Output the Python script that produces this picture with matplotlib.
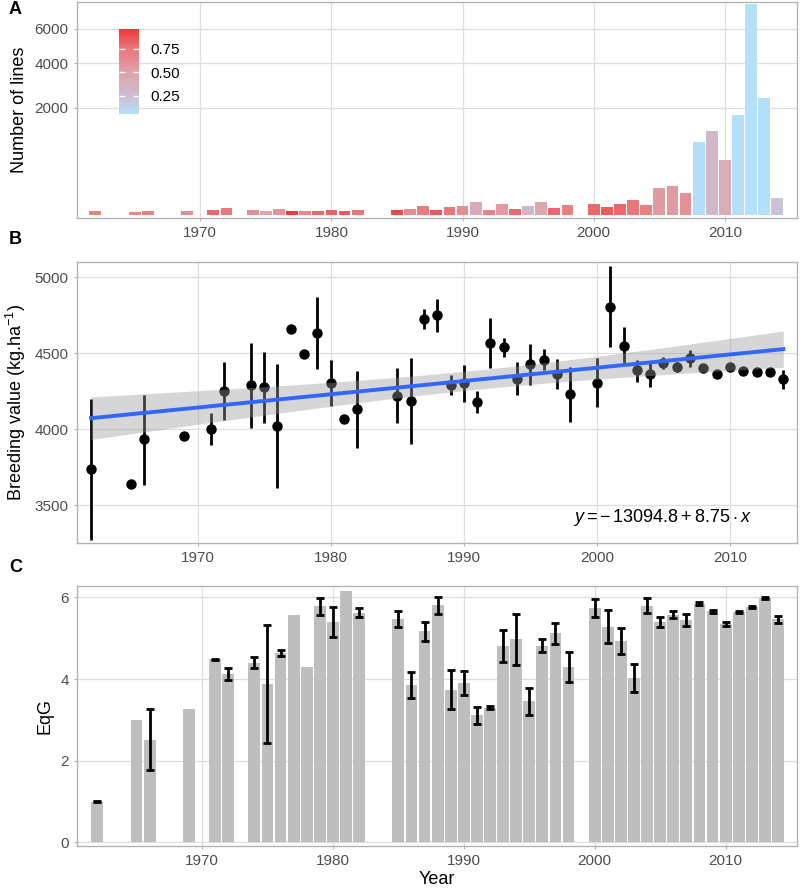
import numpy as np
import matplotlib
matplotlib.use("Agg")
import matplotlib.pyplot as plt
from matplotlib.colors import LinearSegmentedColormap, Normalize
from matplotlib.cm import ScalarMappable

plt.rcParams['font.family'] = ['Liberation Sans', 'DejaVu Sans']
plt.rcParams['mathtext.fontset'] = 'custom'
plt.rcParams['mathtext.rm'] = 'Liberation Sans'
plt.rcParams['mathtext.it'] = 'Liberation Sans:italic'
plt.rcParams['mathtext.bf'] = 'Liberation Sans:bold'

# annees presentes dans les trois panneaux
years = [1962, 1965, 1966, 1969, 1971, 1972,
         1974, 1975, 1976, 1977, 1978, 1979, 1980, 1981, 1982,
         1985, 1986, 1987, 1988, 1989, 1990, 1991, 1992, 1993, 1994, 1995, 1996, 1997, 1998,
         2000, 2001, 2002, 2003, 2004, 2005, 2006, 2007, 2008, 2009, 2010, 2011, 2012, 2013, 2014]

# A : nombre de lignes et proportion (couleur)
n_lines = [4, 2, 4, 3, 6, 9,
           6, 4, 8, 3, 3, 4, 5, 3, 5,
           6, 8, 15, 6, 12, 17, 32, 6, 22, 8, 16, 30, 9, 20,
           24, 13, 24, 42, 19, 133, 153, 85, 920, 1240, 540, 1730, 7700, 2370, 55]
frac = [0.70, 0.65, 0.70, 0.62, 0.80, 0.75,
        0.62, 0.45, 0.58, 0.96, 0.65, 0.80, 0.82, 0.85, 0.75,
        0.90, 0.62, 0.72, 0.85, 0.75, 0.62, 0.42, 0.68, 0.55, 0.80, 0.30, 0.45, 0.80, 0.70,
        0.80, 0.85, 0.80, 0.75, 0.70, 0.55, 0.55, 0.60, 0.07, 0.30, 0.40, 0.06, 0.056, 0.06, 0.22]

# B : valeur genetique moyenne et intervalle (None = pas de barre)
bv = [3737, 3636, 3934, 3952, 4002, 4252,
      4289, 4276, 4018, 4660, 4493, 4636, 4305, 4070, 4132,
      4221, 4186, 4728, 4750, 4294, 4303, 4182, 4570, 4539, 4331, 4430, 4458, 4364, 4230,
      4307, 4807, 4548, 4388, 4364, 4439, 4410, 4469, 4406, 4366, 4412, 4384, 4379, 4379, 4329]
bv_lo = [3272, None, 3634, None, 3897, 4061,
         4007, 4044, 3610, None, None, 4399, 4153, None, 3875,
         4039, 3901, 4660, 4638, 4228, 4180, 4110, 4401, 4476, 4224, 4294, 4388, 4263, 4046,
         4147, 4539, 4421, 4314, 4281, 4399, 4375, 4412, None, None, None, None, None, None, 4263]
bv_hi = [4200, None, 4228, None, 4110, 4441,
         4568, 4509, 4428, None, None, 4873, 4454, None, 4386,
         4406, 4471, 4789, 4860, 4360, 4425, 4250, 4735, 4599, 4445, 4564, 4526, 4465, 4412,
         4469, 5075, 4675, 4456, 4441, 4478, 4441, 4522, None, None, None, None, None, None, 4390]
intercept, slope = -13094.8, 8.75

# C : EqG et erreur
eqg = [1.00, 3.00, 2.51, 3.26, 4.48, 4.12,
       4.40, 3.88, 4.64, 5.56, 4.30, 5.78, 5.40, 6.15, 5.63,
       5.47, 3.86, 5.17, 5.81, 3.74, 3.90, 3.11, 3.30, 4.81, 4.97, 3.46, 4.82, 5.12, 4.29,
       5.74, 5.28, 4.93, 4.03, 5.80, 5.39, 5.58, 5.45, 5.85, 5.66, 5.35, 5.64, 5.77, 5.98, 5.46]
eqg_err = [0.01, 0, 0.75, 0, 0.02, 0.15,
           0.13, 1.44, 0.07, 0, 0, 0.20, 0.375, 0, 0.11,
           0.19, 0.32, 0.24, 0.21, 0.48, 0.29, 0.20, 0.03, 0.39, 0.63, 0.33, 0.155, 0.25, 0.37,
           0.21, 0.40, 0.32, 0.35, 0.18, 0.12, 0.085, 0.14, 0.03, 0.03, 0.04, 0.03, 0.02, 0.03, 0.09]

yrs = np.array(years, dtype=float)
grid_c = '#dedede'
border_c = '#b3b3b3'
tick_c = '#4d4d4d'

def style(ax):
    ax.set_facecolor('white')
    ax.grid(True, color=grid_c, lw=0.9)
    ax.set_axisbelow(True)
    for s in ax.spines.values():
        s.set_color(border_c)
        s.set_linewidth(1.0)
    ax.tick_params(colors=border_c, labelcolor=tick_c, labelsize=11, length=2.5, width=0.8)
    ax.set_xticks([1970, 1980, 1990, 2000, 2010])

fig = plt.figure(figsize=(8, 8.92), dpi=100)
W, H = 800, 892
def box(l, t, r, b):
    return [l / W, 1 - b / H, (r - l) / W, (b - t) / H]

# ---- A
axA = fig.add_axes(box(77, 2, 797, 218))
style(axA)
cmap = LinearSegmentedColormap.from_list('fr', [(0, '#b3e0fa'), (0.215, '#cdbdd0'), (0.49, '#dfa3a9'),
                                                (0.768, '#e9777a'), (1, '#ef3a3a')])
norm = Normalize(vmin=min(frac), vmax=max(frac))
fwd = lambda y: np.sign(y) * np.sqrt(np.abs(y))
inv = lambda y: np.sign(y) * y ** 2
axA.set_yscale('function', functions=(fwd, inv))
axA.bar(yrs, n_lines, width=0.9, color=cmap(norm(np.array(frac))), zorder=2)
axA.set_xlim(1960.6, 2015.5)
axA.set_ylim(-1.08, 7850)
axA.set_yticks([2000, 4000, 6000])
axA.set_ylabel('Number of lines', fontsize=13, labelpad=5)

cax = fig.add_axes(box(119, 29, 139, 114))
cb = fig.colorbar(ScalarMappable(norm=norm, cmap=cmap), cax=cax)
cb.outline.set_visible(False)
cb.set_ticks([0.25, 0.5, 0.75])
cb.set_ticklabels(['0.25', '0.50', '0.75'])
cax.tick_params(axis='y', direction='in', color='white', width=1, length=4,
                left=True, right=True, labelsize=11, labelcolor='black', pad=8)

# ---- B
axB = fig.add_axes(box(77, 262, 797, 543))
style(axB)
for x, y, lo, hi in zip(yrs, bv, bv_lo, bv_hi):
    if lo is not None:
        axB.plot([x, x], [lo, hi], color='black', lw=2, zorder=3, solid_capstyle='butt')
axB.plot(yrs, bv, 'o', color='black', ms=6.5, zorder=3)

xs = np.linspace(yrs.min(), yrs.max(), 200)
fit = intercept + slope * xs
resid = np.array(bv) - (intercept + slope * yrs)
n = len(yrs)
s = np.sqrt(np.sum(resid ** 2) / (n - 2))
se = s * np.sqrt(1 / n + (xs - yrs.mean()) ** 2 / np.sum((yrs - yrs.mean()) ** 2))
axB.fill_between(xs, fit - 2.013 * se, fit + 2.013 * se, color='#999999', alpha=0.4, lw=0, zorder=4)
axB.plot(xs, fit, color='#3366ff', lw=2.8, zorder=5)
axB.text(2004.9, 3415, r'$y = -\,13094.8 + 8.75\cdot x$', fontsize=13, ha='center', va='center')
axB.set_xlim(1960.94, 2015.03)
axB.set_ylim(3250, 5102)
axB.set_yticks([3500, 4000, 4500, 5000])
axB.set_ylabel('Breeding value (kg.ha$^{-1}$)', fontsize=13, labelpad=5)

# ---- C
axC = fig.add_axes(box(77, 586, 797, 846))
style(axC)
axC.bar(yrs, eqg, width=0.9, color='#bebebe', zorder=2)
err = np.array(eqg_err)
m = err > 0
axC.errorbar(yrs[m], np.array(eqg)[m], yerr=err[m], fmt='none', ecolor='black',
             elinewidth=2, capsize=3, capthick=2, zorder=3)
axC.set_xlim(1960.45, 2015.45)
axC.set_ylim(-0.09, 6.28)
axC.set_yticks([0, 2, 4, 6])
axC.set_ylabel('EqG', fontsize=13, labelpad=5)
axC.set_xlabel('Year', fontsize=13, labelpad=2)

for lab, y in [('A', 10), ('B', 240), ('C', 567)]:
    fig.text(9 / W, 1 - y / H, lab, fontsize=13, fontweight='bold', ha='left', va='center')

fig.savefig('out.png', dpi=100)
